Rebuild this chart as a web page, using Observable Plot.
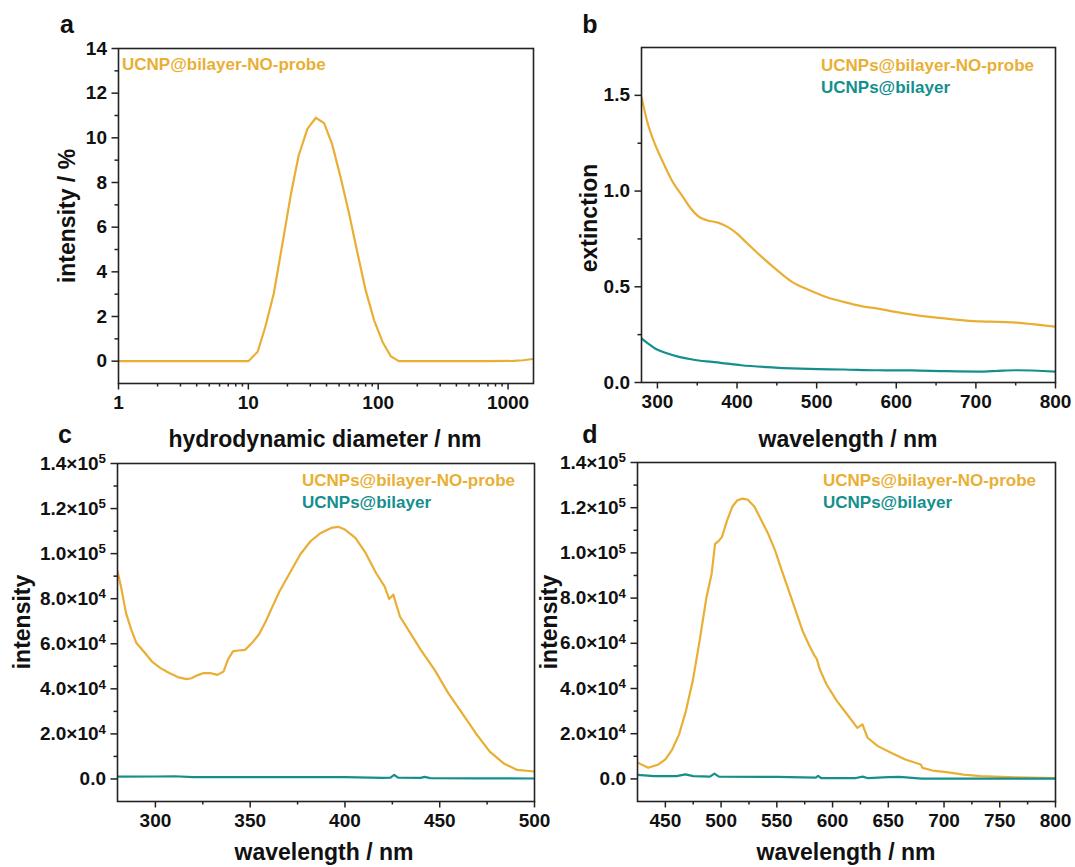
<!DOCTYPE html>
<html>
<head>
<meta charset="utf-8">
<script src="https://cdn.jsdelivr.net/npm/d3@7"></script>
<script src="https://cdn.jsdelivr.net/npm/@observablehq/plot@0.6"></script>
<style>
  body { margin: 0; background: #fff; }
  #fig { position: relative; width: 1075px; height: 867px; overflow: hidden; background: #fff;
         font-family: "Liberation Sans", Arial, sans-serif; font-weight: bold; color: #111; }
  .t { position: absolute; white-space: nowrap; line-height: 1; }
</style>
</head>
<body>
<div id="fig"></div>
<script>
// ---------- colours ----------
const probeColor = "#E9AF34";
const bilayerColor = "#148F8E";

// ---------- panel a: DLS size distribution ----------
const dlsDiameter = [1, 2, 5, 10, 11.8, 13.5, 15.7, 18.3, 21.3, 24.4, 28.5, 33.1, 38.3, 44.1, 51.3, 59.7, 69.5, 80, 93, 108, 125, 144, 300, 700, 1100, 1300, 1570];
const dlsIntensity = [0, 0, 0, 0, 0.42, 1.53, 3.03, 5.26, 7.5, 9.21, 10.4, 10.9, 10.66, 9.73, 8.24, 6.6, 4.8, 3.18, 1.83, 0.86, 0.22, 0, 0, 0, 0.01, 0.04, 0.1];
const aXTicks = [1, 10, 100, 1000];
const aXTickLabels = ["1", "10", "100", "1000"];
const aYTicks = [0, 2, 4, 6, 8, 10, 12, 14];
const aYTickLabels = ["0", "2", "4", "6", "8", "10", "12", "14"];

// ---------- panel b: extinction spectra ----------
const extWavelengthProbe = [280, 288, 295, 306, 318, 332, 342, 351, 362, 377, 388, 400, 413, 431, 448, 469, 491, 512, 534, 556, 577, 599, 620, 642, 663, 685, 706, 728, 750, 771, 800];
const extProbe = [1.49, 1.35, 1.265, 1.16, 1.057, 0.97, 0.909, 0.869, 0.848, 0.834, 0.813, 0.778, 0.726, 0.656, 0.595, 0.526, 0.482, 0.447, 0.421, 0.399, 0.386, 0.369, 0.355, 0.343, 0.334, 0.325, 0.319, 0.317, 0.313, 0.305, 0.291];
const extWavelengthBilayer = [280, 288, 297, 310, 327, 344, 362, 379, 405, 448, 491, 534, 577, 620, 663, 706, 728, 750, 800];
const extBilayer = [0.23, 0.204, 0.178, 0.155, 0.134, 0.12, 0.11, 0.103, 0.09, 0.078, 0.071, 0.068, 0.064, 0.063, 0.059, 0.057, 0.061, 0.064, 0.057];
const bXTicks = [300, 400, 500, 600, 700, 800];
const bXTickLabels = ["300", "400", "500", "600", "700", "800"];
const bYTicks = [0, 0.5, 1.0, 1.5];
const bYTickLabels = ["0.0", "0.5", "1.0", "1.5"];

// ---------- panel c: emission spectra (short wavelength) ----------
const cWavelengthProbe = [280, 281.8, 284.5, 287.3, 290, 294.5, 298.2, 302.7, 307.3, 311.8, 316.4, 319, 322.7, 325.5, 329, 332.7, 336, 338.2, 340.9, 343.6, 347.3, 350.9, 354.5, 358.2, 361.8, 365.5, 370.9, 376.4, 381.8, 387.3, 392.7, 396.4, 400, 405.5, 410.9, 416.4, 420.9, 423.3, 425.5, 429, 434.5, 440, 447.3, 454.5, 461.8, 469, 476.4, 483.6, 490.9, 500];
const cProbe = [92100, 85500, 73600, 66200, 60300, 55900, 52100, 49200, 47000, 45200, 44300, 44700, 46200, 47000, 47000, 46200, 47700, 52900, 56600, 57000, 57300, 60300, 64000, 69900, 76600, 83300, 91400, 99600, 105500, 109200, 111400, 111900, 110700, 107000, 100300, 91400, 85500, 79900, 81800, 72100, 64700, 57300, 48400, 38100, 29200, 20300, 12100, 7000, 4000, 3300];
const cWavelengthBilayer = [280, 300, 310, 320, 350, 400, 420, 424, 426, 428, 440, 442, 445, 470, 500];
const cBilayer = [1000, 1100, 1200, 800, 800, 800, 500, 600, 1800, 600, 500, 900, 400, 300, 200];

// ---------- panel d: emission spectra (long wavelength) ----------
const dWavelengthProbe = [425.4, 434.6, 443.8, 450, 456.1, 462.3, 468.4, 474.6, 480.7, 486.9, 491.5, 494.6, 497.7, 500.7, 505.4, 510, 514.6, 519.2, 523.8, 530, 536.1, 542.2, 548.4, 554.5, 560.7, 566.9, 573, 579.2, 583.8, 585.9, 588.4, 594.5, 603.8, 613, 622.2, 626.8, 631.4, 640.6, 652.9, 665.3, 679.1, 680.6, 689.8, 702.2, 717.5, 732.9, 763.6, 800];
const dProbe = [7100, 4900, 6400, 8600, 13000, 19700, 30000, 43400, 61100, 80400, 90700, 104000, 105200, 107000, 114400, 120400, 123300, 124000, 123600, 120400, 114400, 108500, 101100, 92200, 83300, 74500, 65600, 58900, 54500, 53000, 48600, 41900, 34500, 28600, 22600, 24100, 18200, 14500, 11500, 8600, 6400, 4900, 3700, 3000, 1900, 1200, 700, 400];
const dWavelengthBilayer = [425, 440, 460, 468, 475, 490, 494, 498, 550, 585, 587, 590, 620, 627, 632, 650, 660, 680, 800];
const dBilayer = [1800, 1200, 1200, 2000, 1200, 1000, 2300, 1000, 900, 600, 1300, 300, 300, 1000, 300, 800, 900, 100, 100];

// shared tick labels for the two emission panels
const emYTicks = [0, 20000, 40000, 60000, 80000, 100000, 120000, 140000];
const emYTickLabels = ["0.0", "2.0×10^4", "4.0×10^4", "6.0×10^4", "8.0×10^4", "1.0×10^5", "1.2×10^5", "1.4×10^5"];
const cXTicks = [300, 350, 400, 450, 500];
const cXTickLabels = ["300", "350", "400", "450", "500"];
const dXTicks = [450, 500, 550, 600, 650, 700, 750, 800];
const dXTickLabels = ["450", "500", "550", "600", "650", "700", "750", "800"];

// ---------- helpers ----------
const fig = document.getElementById("fig");
const SVGNS = "http://www.w3.org/2000/svg";
const ink = "#222";

function labelFor(ticks, labels) {
  return d => labels[ticks.indexOf(d)] ?? "";
}

// turn "a×10^b" tick labels into a raised exponent
function superscripts(svg) {
  svg.querySelectorAll("text").forEach(t => {
    const m = t.textContent.match(/^(.*)\^(\d+)$/);
    if (!m) return;
    t.textContent = m[1];
    const sup = document.createElementNS(SVGNS, "tspan");
    sup.setAttribute("dy", "-0.48em");
    sup.setAttribute("font-size", "0.7em");
    sup.textContent = m[2];
    t.appendChild(sup);
  });
}

function panel({frame, x, y, xTicks, xLabels, xMinor, yTicks, yLabels, yMinor, series}) {
  const [l, t, r, b] = frame;
  const ml = 100, mr = 12, mt = 12, mb = 45;
  const axisStyle = {stroke: ink, strokeWidth: 1.5, label: null};
  const svg = Plot.plot({
    width: r - l + ml + mr,
    height: b - t + mt + mb,
    marginLeft: ml, marginRight: mr, marginTop: mt, marginBottom: mb,
    style: "background: transparent; overflow: visible; max-width: none; font-family: 'Liberation Sans', Arial, sans-serif; font-size: 19px; font-weight: bold; color: #111;",
    x: {...x, label: null},
    y: {...y, label: null},
    marks: [
      Plot.axisX(xMinor, {...axisStyle, tickSize: 3.5, tickFormat: () => ""}),
      Plot.axisX(xTicks, {...axisStyle, tickSize: 6.5, tickPadding: 5, fill: "#111", tickFormat: labelFor(xTicks, xLabels)}),
      Plot.axisY(yMinor, {...axisStyle, tickSize: 3.5, tickFormat: () => ""}),
      Plot.axisY(yTicks, {...axisStyle, tickSize: 6.5, tickPadding: 5, fill: "#111", tickFormat: labelFor(yTicks, yLabels)}),
      ...series.map(s => Plot.line(s.y, {x: s.x, y: s.y, stroke: s.color, strokeWidth: 2.2, curve: s.curve || "linear", clip: true})),
      Plot.frame({stroke: ink, strokeWidth: 1.6})
    ]
  });
  superscripts(svg);
  svg.style.position = "absolute";
  svg.style.left = (l - ml) + "px";
  svg.style.top = (t - mt) + "px";
  fig.appendChild(svg);
}

// horizontal text placed by its baseline
function text(str, x, baseline, size, {anchor = "start", color = "#111"} = {}) {
  const d = document.createElement("div");
  d.className = "t";
  d.textContent = str;
  d.style.fontSize = size + "px";
  d.style.color = color;
  d.style.left = x + "px";
  d.style.top = (baseline - 0.8465 * size) + "px";
  if (anchor === "middle") d.style.transform = "translateX(-50%)";
  fig.appendChild(d);
}

// vertical axis title centred on (cx, cy)
function vtext(str, cx, cy, size) {
  const d = document.createElement("div");
  d.className = "t";
  d.textContent = str;
  d.style.fontSize = size + "px";
  d.style.left = cx + "px";
  d.style.top = cy + "px";
  d.style.transform = "translate(-50%, -50%) rotate(-90deg)";
  fig.appendChild(d);
}

const logMinor = [2, 3, 4, 5, 6, 7, 8, 9, 20, 30, 40, 50, 60, 70, 80, 90, 200, 300, 400, 500, 600, 700, 800, 900];
const emYMinor = [10000, 30000, 50000, 70000, 90000, 110000, 130000];

// ---------- a ----------
panel({
  frame: [118, 48, 533, 383],
  x: {type: "log", domain: [1, 1570]},
  y: {domain: [-1, 14]},
  xTicks: aXTicks, xLabels: aXTickLabels, xMinor: logMinor,
  yTicks: aYTicks, yLabels: aYTickLabels, yMinor: [1, 3, 5, 7, 9, 11, 13],
  series: [{x: dlsDiameter, y: dlsIntensity, color: probeColor}]
});

// ---------- b ----------
panel({
  frame: [641, 47, 1055, 382],
  x: {domain: [280, 800]},
  y: {domain: [0, 1.75]},
  xTicks: bXTicks, xLabels: bXTickLabels, xMinor: [350, 450, 550, 650, 750],
  yTicks: bYTicks, yLabels: bYTickLabels, yMinor: [0.25, 0.75, 1.25],
  series: [
    {x: extWavelengthProbe, y: extProbe, color: probeColor, curve: "monotone-x"},
    {x: extWavelengthBilayer, y: extBilayer, color: bilayerColor, curve: "monotone-x"}
  ]
});

// ---------- c ----------
panel({
  frame: [117, 463, 534, 801],
  x: {domain: [280, 500]},
  y: {domain: [-10000, 140000]},
  xTicks: cXTicks, xLabels: cXTickLabels, xMinor: [325, 375, 425, 475],
  yTicks: emYTicks, yLabels: emYTickLabels, yMinor: emYMinor,
  series: [
    {x: cWavelengthProbe, y: cProbe, color: probeColor},
    {x: cWavelengthBilayer, y: cBilayer, color: bilayerColor}
  ]
});

// ---------- d ----------
panel({
  frame: [637, 462, 1055, 801],
  x: {domain: [425, 800]},
  y: {domain: [-10000, 140000]},
  xTicks: dXTicks, xLabels: dXTickLabels, xMinor: [475, 525, 575, 625, 675, 725, 775],
  yTicks: emYTicks, yLabels: emYTickLabels, yMinor: emYMinor,
  series: [
    {x: dWavelengthProbe, y: dProbe, color: probeColor},
    {x: dWavelengthBilayer, y: dBilayer, color: bilayerColor}
  ]
});

// ---------- panel letters ----------
text("a", 67, 33, 25, {anchor: "middle"});
text("b", 590, 33, 25, {anchor: "middle"});
text("c", 65, 443, 25, {anchor: "middle"});
text("d", 590, 443, 25, {anchor: "middle"});

// ---------- axis titles ----------
text("hydrodynamic diameter / nm", 325, 447, 23, {anchor: "middle"});
text("wavelength / nm", 848, 447, 23, {anchor: "middle"});
text("wavelength / nm", 324, 860, 23, {anchor: "middle"});
text("wavelength / nm", 846, 860, 23, {anchor: "middle"});
vtext("intensity / %", 67, 216, 23);
vtext("extinction", 589, 218, 23);
vtext("intensity", 22, 622, 23);
vtext("intensity", 549, 622, 23);

// ---------- legends ----------
text("UCNP@bilayer-NO-probe", 122, 70.5, 17, {color: probeColor});
text("UCNPs@bilayer-NO-probe", 821, 71.5, 17, {color: probeColor});
text("UCNPs@bilayer", 821, 93.5, 17, {color: bilayerColor});
text("UCNPs@bilayer-NO-probe", 302, 486.5, 17, {color: probeColor});
text("UCNPs@bilayer", 302, 508.5, 17, {color: bilayerColor});
text("UCNPs@bilayer-NO-probe", 823, 486.5, 17, {color: probeColor});
text("UCNPs@bilayer", 823, 508.5, 17, {color: bilayerColor});
</script>
</body>
</html>
